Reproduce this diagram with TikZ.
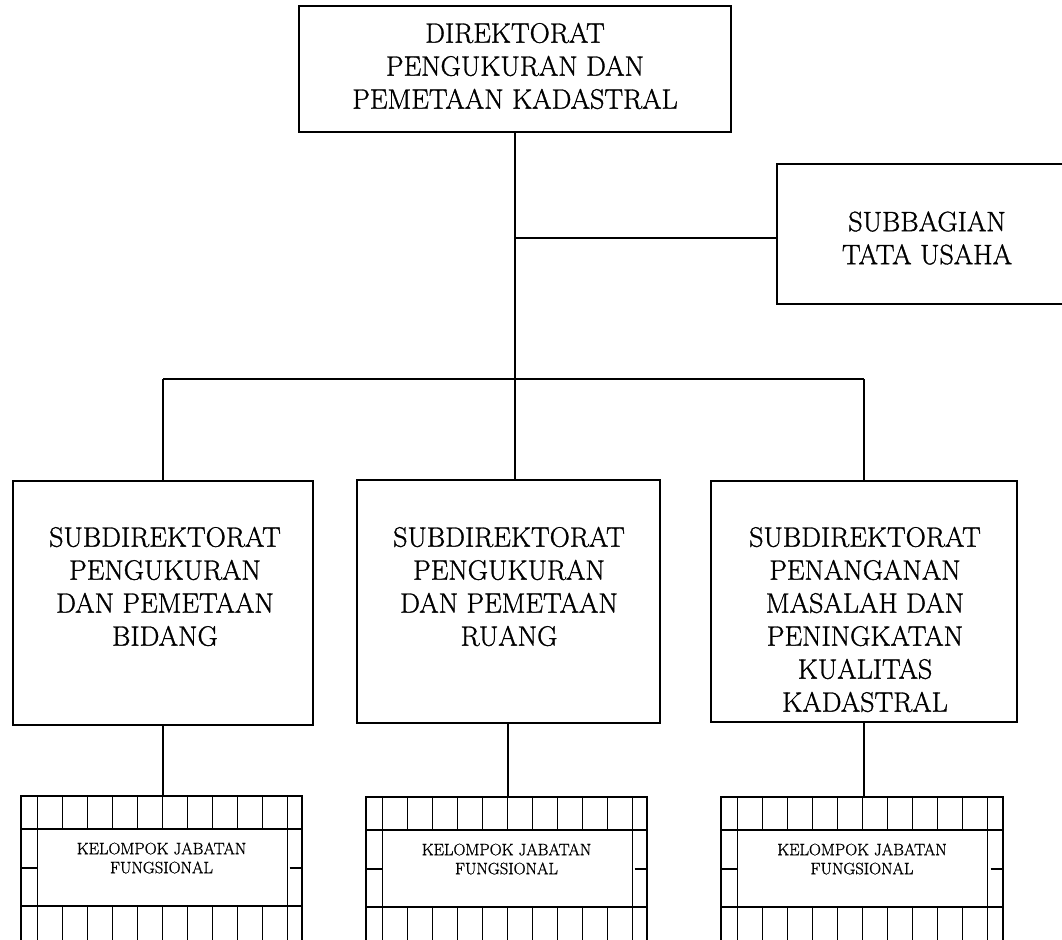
\documentclass[tikz,border=0pt]{standalone}
\usepackage{fontspec}
\usetikzlibrary{calc}

% slightly heavier roman for the chart labels
\newfontfamily\chartfont{Latin Modern Roman}[RawFeature={embolden=1.1}]

\tikzset{
  unitbox/.style={draw, line width=2pt, inner sep=0pt, minimum width=#1},
  wire/.style={line width=1.8pt},
  gridline/.style={line width=1.8pt},
  cellline/.style={line width=1.5pt},
  biglabel/.style={align=center, inner sep=0pt, font=\chartfont\fontsize{28}{33}\selectfont},
  smalllabel/.style={align=center, inner sep=0pt, font=\chartfont\fontsize{16.5}{19}\selectfont},
}

% tiled border of a functional group box: one row of cells above,
% one below, and a narrow split column on each side
\newcommand\gridbox[1]{%
  \draw[gridline] ($(#1.north west)+(0,34)$) -- ($(#1.north east)+(0,34)$);
  \draw[gridline] ($(#1.north west)+(0,111)$) -- ($(#1.north east)+(0,111)$);
  \draw[cellline] ($(#1.north west)+(0,73)$) -- ++(17.5,0);
  \draw[cellline] ($(#1.north east)+(-13.5,73)$) -- ++(13.5,0);
  \foreach \i in {1,...,9} {
    \draw[cellline] ($(#1.north west)+(17.5+25*\i,0)$) -- ++(0,34);
    \draw[cellline] ($(#1.north west)+(17.5+25*\i,111)$) -- ++(0,60);
  }
  \draw[gridline] ($(#1.north west)+(17.5,0)$) -- ++(0,171);
  \draw[gridline] ($(#1.north west)+(267.5,0)$) -- ++(0,171);
}

\begin{document}
\begin{tikzpicture}[x=1pt, y=-1pt]
\clip (0,0) rectangle (1062,939);
\fill[white] (0,0) rectangle (1062,939);

% boxes
\node[unitbox=432pt, minimum height=126pt] (dir) at (515,69) {};
\node[unitbox=289pt, minimum height=140pt] (sub) at (921.5,234) {};
\node[unitbox=300pt, minimum height=244pt] (s1) at (163,603) {};
\node[unitbox=303pt, minimum height=243pt] (s2) at (508,601.5) {};
\node[unitbox=306pt, minimum height=241pt] (s3) at (864,601.5) {};
\node[unitbox=281pt, minimum height=164pt] (k1) at (161.5,878) {};
\node[unitbox=281pt, minimum height=164pt] (k2) at (506.5,879) {};
\node[unitbox=282pt, minimum height=164pt] (k3) at (862,879) {};

% texts
\node[biglabel] (dirT) at (515,66) {DIREKTORAT\\PENGUKURAN DAN\\PEMETAAN KADASTRAL};
\node[biglabel] (subT) at (927,238) {SUBBAGIAN\\TATA USAHA};
\node[biglabel] (s1T) at (165,586.5) {SUBDIREKTORAT\\PENGUKURAN\\DAN PEMETAAN\\BIDANG};
\node[biglabel] (s2T) at (509,586.5) {SUBDIREKTORAT\\PENGUKURAN\\DAN PEMETAAN\\RUANG};
\node[biglabel] (s3T) at (865,619.5) {SUBDIREKTORAT\\PENANGANAN\\MASALAH DAN\\PENINGKATAN\\KUALITAS\\KADASTRAL};

\gridbox{k1}
\gridbox{k2}
\gridbox{k3}

\node[smalllabel] (k1T) at ($(k1.north)+(0,63)$) {KELOMPOK JABATAN\\FUNGSIONAL};
\node[smalllabel] (k2T) at ($(k2.north)+(0,63)$) {KELOMPOK JABATAN\\FUNGSIONAL};
\node[smalllabel] (k3T) at ($(k3.north)+(0,63)$) {KELOMPOK JABATAN\\FUNGSIONAL};

% connectors
\coordinate (jL) at (163,379);
\coordinate (jR) at (864,379);
\draw[wire] (dir.south) -- (dir.south |- s2.north);
\draw[wire] ([yshift=-4pt]dir.south |- sub.west) -- ([yshift=-4pt]sub.west);
\draw[wire] (jL) -- (jR);
\draw[wire] (jL) -- (s1.north);
\draw[wire] (jR) -- (s3.north);
\draw[wire] (s1.south) -- (s1.south |- k1.north);
\draw[wire] (s2.south) -- (s2.south |- k2.north);
\draw[wire] (s3.south) -- (s3.south |- k3.north);
\end{tikzpicture}
\end{document}
